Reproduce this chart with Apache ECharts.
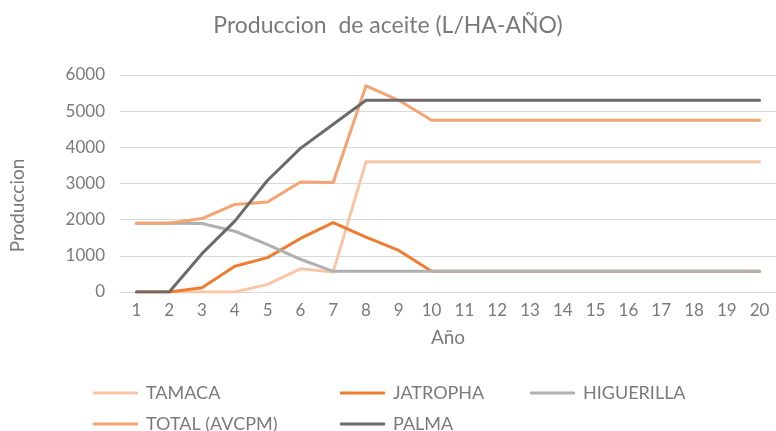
<!DOCTYPE html>
<html>
<head>
<meta charset="utf-8">
<script src="https://cdn.jsdelivr.net/npm/echarts@6/dist/echarts.min.js"></script>
<style>
  html, body { margin: 0; padding: 0; background: #fff; }
  #chart { width: 776px; height: 431px; }
</style>
</head>
<body>
<div id="chart"></div>
<script>
// datos
const years = ['1','2','3','4','5','6','7','8','9','10','11','12','13','14','15','16','17','18','19','20'];
const tamaca = [0, 0, 0, 0, 210, 640, 555, 3600, 3600, 3600, 3600, 3600, 3600, 3600, 3600, 3600, 3600, 3600, 3600, 3600];
const jatropha = [0, 0, 120, 710, 950, 1480, 1920, 1520, 1150, 572, 572, 572, 572, 572, 572, 572, 572, 572, 572, 572];
const higuerilla = [1900, 1900, 1895, 1680, 1310, 905, 572, 572, 572, 572, 572, 572, 572, 572, 572, 572, 572, 572, 572, 572];
const total = [1900, 1900, 2030, 2420, 2490, 3040, 3030, 5700, 5300, 4750, 4750, 4750, 4750, 4750, 4750, 4750, 4750, 4750, 4750, 4750];
const palma = [0, 0, 1060, 1960, 3090, 3970, 4640, 5300, 5300, 5300, 5300, 5300, 5300, 5300, 5300, 5300, 5300, 5300, 5300, 5300];

const textColor = '#7a7a7a';
const font = 'Lato';

const chart = echarts.init(document.getElementById('chart'));

const mkLine = (name, data, color) => ({
  name: name,
  type: 'line',
  data: data,
  symbol: 'none',
  lineStyle: { color: color, width: 3, cap: 'round', join: 'round' },
  itemStyle: { color: color },
  animation: false
});

const mkLegend = (name, left, top) => ({
  data: [name],
  left: left,
  top: top,
  itemWidth: 45,
  itemHeight: 3,
  itemGap: 0,
  icon: 'roundRect',
  textStyle: { color: textColor, fontFamily: font, fontSize: 18, padding: [0, 0, 0, 3] }
});

chart.setOption({
  backgroundColor: '#fff',
  title: {
    text: 'Produccion  de aceite (L/HA-AÑO)',
    left: 'center',
    top: 9,
    textStyle: { color: textColor, fontFamily: font, fontSize: 23, fontWeight: 'normal' }
  },
  legend: [
    mkLegend('TAMACA', 88, 379),
    mkLegend('JATROPHA', 335, 379),
    mkLegend('HIGUERILLA', 525, 379),
    mkLegend('TOTAL (AVCPM)', 88, 410),
    mkLegend('PALMA', 335, 410)
  ],
  grid: { left: 118.5, right: -4.6, top: 75, bottom: 139 },
  xAxis: {
    type: 'category',
    data: years,
    boundaryGap: true,
    name: 'Año',
    nameLocation: 'middle',
    nameGap: 36,
    nameTextStyle: { color: textColor, fontFamily: font, fontSize: 19 },
    axisLine: { lineStyle: { color: '#d9d9d9' } },
    axisTick: { show: false },
    axisLabel: { color: textColor, fontFamily: font, fontSize: 17, margin: 10 }
  },
  yAxis: {
    type: 'value',
    min: 0,
    max: 6000,
    interval: 1000,
    name: 'Produccion',
    nameLocation: 'middle',
    nameGap: 93,
    nameTextStyle: { color: textColor, fontFamily: font, fontSize: 19, padding: [0, 44, 0, 0] },
    axisLine: { show: false },
    axisTick: { show: false },
    splitLine: { lineStyle: { color: '#d9d9d9', width: 1 } },
    axisLabel: { color: textColor, fontFamily: font, fontSize: 17, margin: 15, formatter: v => String(v) }
  },
  series: [
    mkLine('TAMACA', tamaca, '#f8c6a6'),
    mkLine('JATROPHA', jatropha, '#ed7d31'),
    mkLine('HIGUERILLA', higuerilla, '#b0b0b0'),
    mkLine('TOTAL (AVCPM)', total, '#f4a471'),
    mkLine('PALMA', palma, '#6b6b6d')
  ]
});
</script>
</body>
</html>
